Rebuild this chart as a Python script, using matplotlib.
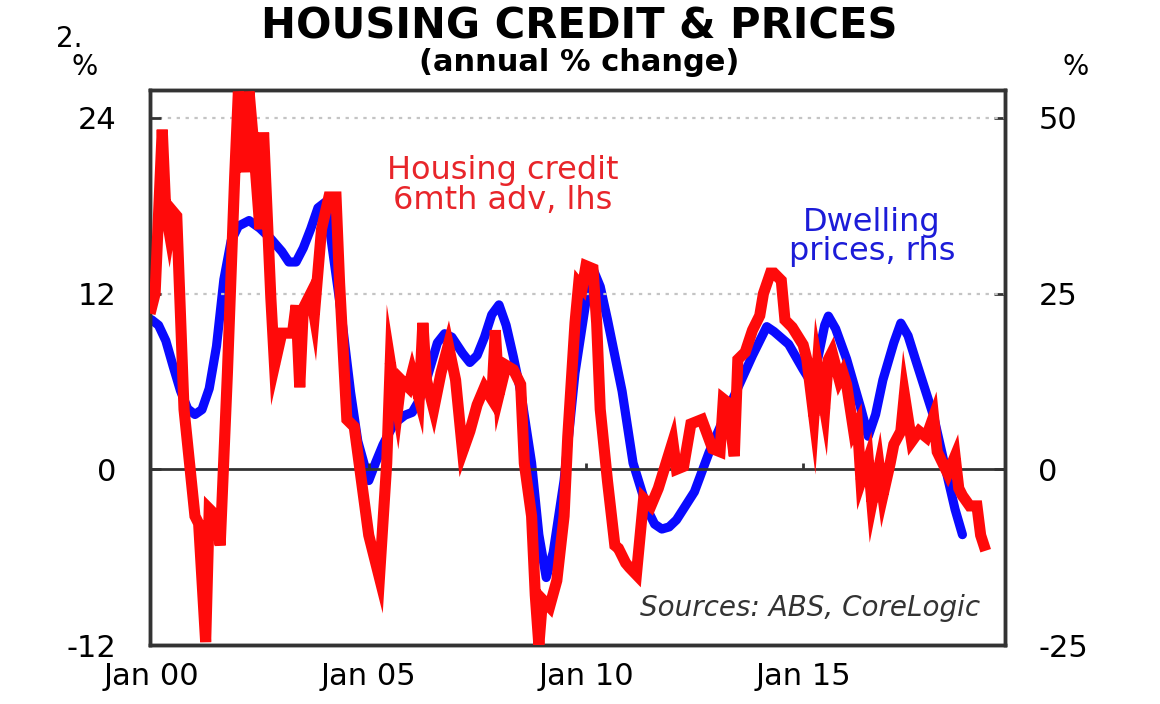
import numpy as np
import pandas as pd
import matplotlib
matplotlib.use('Agg')
import matplotlib.pyplot as plt

# Housing credit, 6mth annualised, advanced 6 months (lhs, %)
credit_months = [
  '2000-01', '2000-02', '2000-04', '2000-05', '2000-06', '2000-07', '2000-08', '2000-10',
  '2001-01', '2001-02', '2001-04', '2001-05', '2001-07', '2001-08', '2001-10', '2001-12',
  '2002-01', '2002-03', '2002-04', '2002-05', '2002-07', '2002-08', '2002-10', '2002-11',
  '2003-01', '2003-04', '2003-05', '2003-06', '2003-07', '2003-09', '2003-10', '2003-12',
  '2004-02', '2004-04', '2004-05', '2004-07', '2004-09', '2004-11',
  '2005-01', '2005-04', '2005-06', '2005-07', '2005-09', '2005-10', '2005-12',
  '2006-01', '2006-03', '2006-04', '2006-05', '2006-07', '2006-09', '2006-11',
  '2007-01', '2007-03', '2007-05', '2007-07', '2007-09', '2007-11', '2007-12',
  '2008-01', '2008-03', '2008-05', '2008-07', '2008-08', '2008-10', '2008-11', '2008-12',
  '2009-01', '2009-03', '2009-05', '2009-07', '2009-08', '2009-10', '2009-11', '2009-12',
  '2010-01', '2010-03', '2010-04', '2010-05', '2010-07', '2010-09', '2010-10', '2010-12',
  '2011-01', '2011-03', '2011-05', '2011-07', '2011-09',
  '2012-01', '2012-02', '2012-04', '2012-06', '2012-09', '2012-12',
  '2013-02', '2013-03', '2013-04', '2013-06', '2013-07', '2013-09', '2013-11',
  '2014-01', '2014-02', '2014-04', '2014-05', '2014-07', '2014-08', '2014-10',
  '2015-01', '2015-02', '2015-04', '2015-05', '2015-07', '2015-08', '2015-09', '2015-11', '2015-12',
  '2016-01', '2016-03', '2016-04', '2016-05', '2016-07', '2016-08', '2016-10', '2016-11',
  '2017-01', '2017-02', '2017-04', '2017-05', '2017-07', '2017-09', '2017-11',
  '2018-01', '2018-02', '2018-04', '2018-05', '2018-07', '2018-08', '2018-09', '2018-11',
  '2019-01', '2019-02', '2019-03',
]
credit_growth = [
  11.0, 12.0, 23.2, 17.6, 16.1, 17.6, 17.3, 4.1,
  -3.2, -3.7, -11.8, -2.7, -3.2, -5.2, 6.6, 20.0,
  25.8, 20.3, 25.8, 23.0, 16.4, 23.0, 11.7, 7.1,
  9.3, 9.3, 11.2, 5.6, 11.0, 12.0, 10.5, 16.4,
  18.6, 18.6, 12.7, 3.4, 2.9, -0.8,
  -4.5, -7.4, 0.4, 7.3, 4.1, 6.1, 5.6,
  6.6, 4.8, 10.0, 6.1, 4.1, 6.6, 8.5,
  6.1, 1.2, 2.6, 4.4, 5.6, 4.8, 9.5,
  5.1, 7.1, 6.8, 5.8, 0.4, -3.2, -8.6, -12.0,
  -8.9, -9.4, -7.6, -3.2, 2.2, 10.0, 12.7, 12.4,
  13.9, 13.7, 10.0, 4.1, -0.8, -5.2, -5.4, -6.4,
  -6.7, -7.2, -2.0, -2.5, -1.3,
  1.9, 0.0, 0.2, 3.1, 3.4, 1.4,
  1.2, 4.8, 4.6, 0.9, 7.5, 8.0, 9.5,
  10.5, 12.0, 13.4, 13.4, 12.9, 10.2, 9.7,
  8.5, 7.5, 3.6, 7.1, 4.1, 7.5, 8.0, 6.1, 6.6,
  5.8, 2.6, 3.1, -0.8, 0.7, -2.3, 0.2, -1.8,
  0.4, 1.7, 2.6, 5.1, 1.9, 2.6, 2.2,
  3.6, 1.2, 0.2, -0.3, 0.9, -1.3, -1.8, -2.5,
  -2.5, -4.5, -5.2,
]

# Dwelling prices, annual % change (rhs)
price_months = [
  '2000-01', '2000-03', '2000-05', '2000-07', '2000-09', '2000-11', '2001-01', '2001-03',
  '2001-05', '2001-07', '2001-09', '2001-11', '2002-01', '2002-04', '2002-07', '2002-10',
  '2003-01', '2003-03', '2003-05', '2003-07', '2003-09', '2003-11', '2004-01', '2004-02',
  '2004-05', '2004-08', '2004-10', '2005-01', '2005-03', '2005-05', '2005-08', '2005-11',
  '2006-01', '2006-03', '2006-05', '2006-08', '2006-10', '2006-12', '2007-03', '2007-05',
  '2007-07', '2007-09', '2007-11', '2008-01', '2008-03', '2008-05', '2008-07', '2008-10',
  '2008-12', '2009-02', '2009-04', '2009-07', '2009-10', '2010-01', '2010-03', '2010-05',
  '2010-07', '2010-11', '2011-02', '2011-06', '2011-08', '2011-10', '2011-12', '2012-02',
  '2012-07', '2012-11', '2013-02', '2013-07', '2013-11', '2014-03', '2014-05', '2014-09',
  '2015-01', '2015-03', '2015-05', '2015-07', '2015-08', '2015-10', '2016-01', '2016-05',
  '2016-07', '2016-09', '2016-11', '2017-02', '2017-04', '2017-06', '2017-08', '2018-01',
  '2018-04', '2018-07', '2018-09',
]
price_growth = [
  21.3, 20.5, 18.3, 14.7, 11.2, 8.6, 7.8, 8.5,
  11.5, 17.5, 27.0, 32.5, 34.6, 35.4, 34.3, 32.8,
  31.0, 29.5, 29.5, 31.5, 34.2, 37.2, 38.0, 35.0,
  24.0, 11.0, 4.0, -1.6, 1.0, 3.5, 6.5, 7.7,
  8.1, 9.8, 12.7, 18.0, 19.3, 18.8, 16.5, 15.2,
  16.2, 18.8, 22.0, 23.4, 20.5, 16.0, 11.1, 0.9,
  -9.3, -15.4, -11.8, -1.6, 13.7, 23.9, 28.5, 26.0,
  21.3, 11.1, 0.9, -5.7, -7.8, -8.5, -8.2, -7.2,
  -3.2, 2.4, 6.0, 11.6, 16.2, 20.3, 19.6, 17.8,
  14.2, 12.6, 15.5, 20.5, 21.8, 20.0, 15.7, 8.6,
  4.7, 7.8, 12.7, 18.0, 20.8, 19.0, 15.7, 7.6,
  0.9, -5.7, -9.3,
]

xtick_dates = ['2000-01', '2005-01', '2010-01', '2015-01']
xtick_labels = ['Jan 00', 'Jan 05', 'Jan 10', 'Jan 15']
left_ticks = [-12, 0, 12, 24]
right_ticks = [-25, 0, 25, 50]
grid_levels = [12, 24]

RED = '#ff0a0a'
BLUE = '#0a0aff'
FRAME = '#333333'

plt.rcParams['font.family'] = ['DejaVu Sans']

fig = plt.figure(figsize=(11.6, 7.04), dpi=100)
ax = fig.add_axes([0.1293, 0.0838, 0.7371, 0.7882])
ax2 = ax.twinx()
ax.set_zorder(ax2.get_zorder() + 1)
ax.patch.set_visible(False)

cd = pd.to_datetime(credit_months)
pdts = pd.to_datetime(price_months)
xt = pd.to_datetime(xtick_dates)

for lv in grid_levels:
  ax.axhline(lv, color='#c4c4c4', lw=1.6, ls=(0, (1.5, 2.5)), zorder=1)
ax.axhline(0, color=FRAME, lw=2.0, zorder=1)
# little tick marks sitting on the zero line
ax.vlines(xt[1:], 0, 0.4, color=FRAME, lw=2.0, zorder=1)

ax2.plot(pdts, price_growth, color=BLUE, lw=6.6, solid_joinstyle='round', solid_capstyle='round')
ax.plot(cd, credit_growth, color=RED, lw=8.0, solid_joinstyle='miter', zorder=3)

ax.set_xlim(pd.Timestamp('1999-12-20'), pd.Timestamp('2019-08-25'))
ax.set_ylim(-12, 25.9)
ax2.set_ylim(-25, 25.9 * 25 / 12)

ax.set_xticks(xt)
ax.set_xticklabels(xtick_labels)
ax.set_yticks(left_ticks)
ax.set_yticklabels([str(t) for t in left_ticks])
ax2.set_yticks(right_ticks)
ax2.set_yticklabels([str(t) for t in right_ticks])

ax.tick_params(axis='x', length=0, pad=12, labelsize=22)
ax.tick_params(axis='y', direction='in', length=8, width=2, pad=24, labelsize=22, color=FRAME)
ax2.tick_params(axis='y', direction='in', length=8, width=2, pad=24, labelsize=22, color=FRAME)

for a in (ax, ax2):
  for s in a.spines.values():
    s.set_linewidth(2.5)
    s.set_color(FRAME)

fig.text(0.499, 0.962, 'HOUSING CREDIT & PRICES', ha='center', va='center',
         fontsize=30, fontweight='bold')
fig.text(0.499, 0.911, '(annual % change)', ha='center', va='center',
         fontsize=22, fontweight='bold')
fig.text(0.060, 0.945, '2.', ha='center', va='center', fontsize=20)
fig.text(0.073, 0.905, '%', ha='center', va='center', fontsize=20)
fig.text(0.927, 0.905, '%', ha='center', va='center', fontsize=20)

fig.text(0.4336, 0.737, 'Housing credit\n6mth adv, lhs', ha='center', va='center',
         fontsize=23, color='#e8252a', linespacing=0.95)
fig.text(0.7517, 0.6634, 'Dwelling\nprices, rhs', ha='center', va='center',
         fontsize=23, color='#1c1cd8', linespacing=0.95)
fig.text(0.845, 0.1364, 'Sources: ABS, CoreLogic', ha='right', va='center',
         fontsize=20, style='italic', color='#333333')

fig.savefig('out.png', dpi=100)
